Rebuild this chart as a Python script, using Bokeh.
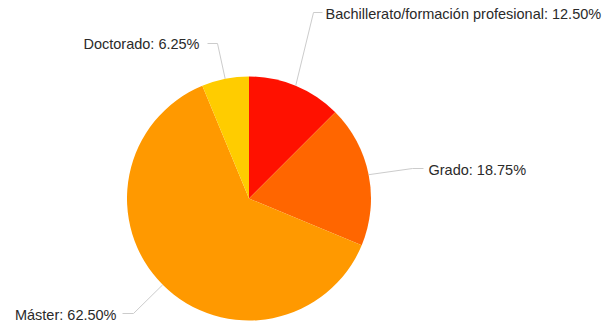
import math
from bokeh.plotting import figure
from bokeh.models import Range1d, ColumnDataSource
from bokeh.core.properties import value
from bokeh.embed import file_html
from bokeh.resources import INLINE

categories = ["Bachillerato/formación profesional", "Grado", "Máster", "Doctorado"]
percentages = [12.50, 18.75, 62.50, 6.25]
colors = ["#FF1100", "#FF6600", "#FF9900", "#FFCC00"]

# layout (reference pixel coordinates; y converted below)
W, H = 609, 324
CX, CY, R = 248.5, 198.0, 122.0
elbows = [(313, 12), (412, 168), (133, 313), (217, 43)]
ends = [(322, 12), (423, 168), (122, 313), (207, 43)]
label_pos = [(325, 13, "left"), (428, 169, "left"), (116, 314, "right"), (199, 43, "right")]

def Y(py):
    return H - py

p = figure(width=W, height=H, output_backend="svg", toolbar_location=None,
           x_range=Range1d(0, W), y_range=Range1d(0, H), min_border=0)
p.axis.visible = False
p.grid.visible = False
p.outline_line_color = None
p.background_fill_color = "white"

total = sum(percentages)
starts, stops, mids = [], [], []
acc = 0.0
for v in percentages:
    a0 = math.pi / 2 - 2 * math.pi * acc / total
    acc += v
    a1 = math.pi / 2 - 2 * math.pi * acc / total
    starts.append(a0)
    stops.append(a1)
    mids.append((a0 + a1) / 2)

src = ColumnDataSource(dict(start=starts, end=stops, color=colors))
p.wedge(x=CX, y=Y(CY), radius=R, start_angle="start", end_angle="end",
        direction="clock", fill_color="color", line_color="white", line_width=0,
        source=src)

for i, cat in enumerate(categories):
    m = mids[i]
    ex = CX + R * math.cos(m)
    ey = Y(CY) + R * math.sin(m)
    xs = [ex, elbows[i][0], ends[i][0]]
    ys = [ey, Y(elbows[i][1]), Y(ends[i][1])]
    p.line(xs, ys, line_color="#cccccc", line_width=1)
    lx, ly, al = label_pos[i]
    p.text(x=[lx], y=[Y(ly)], text=[f"{cat}: {percentages[i]:.2f}%"],
           text_font=value("Liberation Sans"), text_font_size="14.5px",
           text_color="#2a2a2a", text_align=al, text_baseline="middle")

open("out.html", "w").write(file_html(p, INLINE))
